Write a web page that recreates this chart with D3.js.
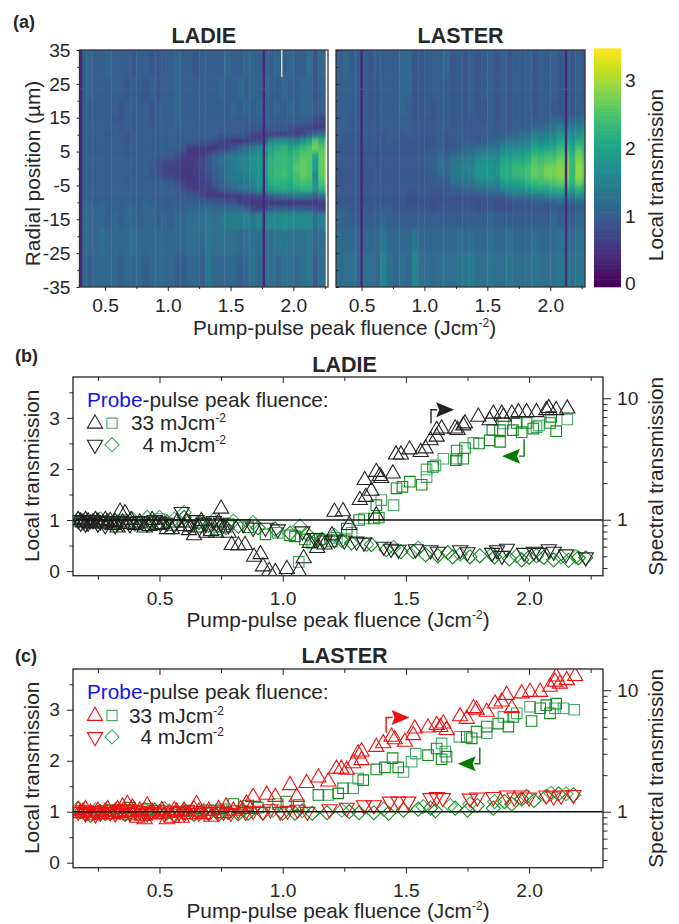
<!DOCTYPE html>
<html>
<head>
<meta charset="utf-8">
<script src="https://cdn.jsdelivr.net/npm/d3@7"></script>
<style>
  body { margin: 0; background: #fff; }
  text { font-family: "Liberation Sans", Arial, sans-serif; fill: #262626; }
</style>
</head>
<body>
<div id="chart"></div>
<script>
// Panel (a): column start fluence and row edges of the two maps
const fluenceCols = [0.30,0.35,0.40,0.45,0.50,0.55,0.60,0.65,0.70,0.75,0.80,0.85,0.90,0.95,1.00,1.05,1.10,1.15,1.20,1.25,1.30,1.35,1.40,1.45,1.50,1.55,1.60,1.65,1.70,1.75,1.80,1.85,1.90,1.95,2.00,2.05,2.10,2.15,2.20,2.25];
const radialEdges = [35,27,20,15.5,13,11,9,7,5,3,1,-1,-3,-5,-7,-9,-11,-13,-18,-25,-35];

const ladieMap = [
  [1.0,1.1,1.0,1.0,1.1,1.0,1.0,1.0,0.9,1.0,1.0,0.9,0.9,1.0,1.0,1.1,1.0,1.0,0.9,1.0,1.0,1.0,1.0,1.1,1.0,1.0,1.1,1.1,1.0,1.0,1.0,1.1,1.0,1.1,1.0,1.0,1.2,0.9,1.1,1.1],
  [1.0,1.1,1.0,1.0,1.0,1.0,1.0,0.9,1.0,1.0,0.9,1.0,0.9,1.0,1.0,1.1,1.0,1.0,1.0,1.0,1.0,1.0,1.1,1.0,1.0,1.1,1.0,1.1,1.0,1.1,1.0,1.0,1.1,1.0,1.0,1.1,1.1,0.9,1.0,1.1],
  [1.0,1.0,1.0,1.0,1.0,1.0,0.9,1.0,1.0,1.0,1.0,0.9,1.0,1.0,1.0,1.1,1.0,1.0,1.0,1.0,1.0,1.0,1.0,1.0,1.1,1.0,1.1,1.0,1.1,1.0,1.0,1.1,1.0,1.1,1.0,1.1,1.1,1.0,1.0,1.0],
  [1.0,1.0,1.0,1.0,1.0,0.9,0.9,1.0,1.0,1.0,1.0,0.9,1.0,1.0,1.0,1.1,1.0,1.0,1.0,1.0,1.0,1.0,1.0,1.0,1.0,1.0,1.0,1.0,1.0,1.0,1.0,1.0,1.0,1.0,1.0,1.0,1.0,0.8,0.7,0.7],
  [1.0,1.0,1.0,1.0,1.0,1.0,0.9,1.0,0.9,1.0,1.0,1.0,1.0,1.0,1.0,1.0,1.0,1.0,1.0,1.0,1.0,1.0,1.0,1.0,1.0,1.0,0.9,0.9,0.9,0.9,0.9,0.9,0.9,0.8,0.7,0.7,0.6,0.5,0.5,0.6],
  [1.0,1.0,1.0,1.0,0.9,1.0,1.0,0.9,1.0,1.0,1.0,1.0,1.0,1.0,1.0,1.0,1.0,1.0,1.0,1.0,1.0,1.0,0.9,1.0,0.9,0.9,0.8,0.7,0.6,0.6,0.6,0.6,0.6,0.7,0.6,0.7,0.9,1.1,1.3,1.6],
  [1.0,1.0,1.0,1.0,1.0,1.0,1.0,0.9,1.0,1.0,1.0,1.0,1.0,1.0,1.0,1.0,1.0,1.0,1.0,0.9,0.9,0.8,0.7,0.6,0.5,0.5,0.6,0.7,0.8,1.0,1.5,1.7,1.7,1.6,1.5,1.8,2.0,2.5,2.2,2.6],
  [1.0,1.0,1.0,1.0,1.0,1.0,1.0,1.0,1.0,1.0,1.0,1.0,1.0,1.0,1.0,1.0,0.9,0.6,0.5,0.5,0.5,0.5,0.6,0.7,0.9,1.1,1.2,1.4,1.5,1.7,2.0,2.1,2.2,2.0,2.1,2.3,2.4,2.7,2.5,2.9],
  [1.0,1.0,1.0,1.0,1.0,1.0,1.0,0.9,1.0,1.0,1.0,1.0,1.0,1.0,0.9,0.8,0.6,0.5,0.5,0.6,0.8,1.0,1.1,1.2,1.3,1.4,1.4,1.6,1.7,1.8,2.1,2.3,2.3,2.2,2.3,2.5,2.5,2.0,2.6,2.9],
  [1.0,1.0,1.0,1.0,1.0,1.0,1.0,1.0,1.0,1.0,1.0,0.9,0.8,0.7,0.7,0.6,0.5,0.5,0.6,0.7,0.9,1.1,1.2,1.3,1.4,1.5,1.5,1.7,1.8,1.9,2.2,2.3,2.3,2.2,2.4,2.6,2.5,1.9,2.6,3.0],
  [1.0,1.0,1.0,1.0,1.0,1.0,1.0,1.0,1.0,1.0,1.0,0.9,0.8,0.7,0.6,0.6,0.5,0.5,0.6,0.7,0.9,1.0,1.1,1.3,1.4,1.5,1.5,1.7,1.8,1.9,2.2,2.3,2.3,2.2,2.5,2.6,2.5,1.9,2.6,2.9],
  [1.0,1.0,1.0,1.0,1.0,1.0,1.0,1.0,1.0,1.0,1.0,0.9,0.9,0.7,0.7,0.6,0.5,0.5,0.6,0.7,0.8,1.0,1.1,1.3,1.4,1.4,1.5,1.6,1.8,1.9,2.2,2.3,2.4,2.2,2.4,2.6,2.5,1.6,2.6,3.0],
  [1.0,1.0,1.0,1.0,1.0,1.0,1.0,0.9,1.0,1.0,1.0,1.0,1.0,1.0,0.9,0.8,0.6,0.5,0.5,0.6,0.7,0.9,1.0,1.2,1.3,1.3,1.4,1.5,1.7,1.8,2.1,2.2,2.2,2.1,2.3,2.4,2.4,1.7,2.4,2.8],
  [1.0,1.0,1.0,1.0,1.0,1.0,1.0,1.0,1.0,1.0,1.0,1.0,1.0,1.0,1.0,0.9,0.7,0.6,0.5,0.6,0.6,0.7,0.9,1.0,1.1,1.2,1.3,1.4,1.6,1.6,1.9,2.0,2.1,2.0,2.1,2.2,2.2,1.7,2.2,2.6],
  [1.0,1.0,1.0,1.0,1.0,1.0,1.0,1.0,1.0,1.0,1.0,1.0,1.0,1.0,1.0,1.0,1.0,0.9,0.8,0.7,0.5,0.5,0.5,0.5,0.6,0.6,0.7,0.7,0.8,0.8,1.0,1.1,1.2,1.2,1.3,1.3,1.3,1.0,1.3,1.4],
  [1.1,1.1,1.0,1.1,1.0,1.0,1.0,1.1,1.0,1.0,1.1,1.0,1.0,1.0,1.0,1.0,1.0,1.0,1.0,1.0,1.0,0.9,0.9,0.8,0.8,0.6,0.6,0.5,0.5,0.5,0.5,0.5,0.5,0.5,0.5,0.5,0.5,0.5,0.5,0.5],
  [1.1,1.1,1.1,1.1,1.0,1.0,1.0,1.1,1.1,1.0,1.1,1.1,1.0,1.0,1.0,1.1,1.0,1.1,1.1,1.1,1.2,1.1,1.1,1.2,1.1,1.1,1.0,0.7,0.6,0.8,0.9,1.0,1.0,0.9,1.0,1.0,0.9,0.8,0.6,0.6],
  [1.1,1.1,1.1,1.1,1.0,1.1,1.0,1.1,1.1,1.0,1.1,1.1,1.0,1.1,1.0,1.1,1.1,1.2,1.2,1.2,1.3,1.2,1.3,1.4,1.4,1.4,1.5,1.4,1.5,1.5,1.6,1.6,1.7,1.6,1.6,1.6,1.6,1.3,1.5,1.6],
  [1.1,1.1,1.1,1.2,1.1,1.1,1.1,1.1,1.2,1.1,1.1,1.1,1.1,1.1,1.1,1.1,1.1,1.2,1.2,1.1,1.3,1.2,1.2,1.2,1.2,1.1,1.2,1.2,1.2,1.2,1.2,1.3,1.3,1.2,1.2,1.2,1.3,1.1,1.2,1.2],
  [1.1,1.0,1.1,1.1,1.1,1.1,1.0,1.1,1.1,1.1,1.0,1.1,1.1,1.1,1.1,1.0,1.0,1.1,1.1,1.0,1.3,1.1,1.1,1.1,1.1,1.0,1.1,1.2,1.1,1.2,1.2,1.1,1.2,1.2,1.1,1.2,1.3,1.0,1.2,1.2]
];

const lasterMap = [
  [1.0,1.1,1.0,1.0,1.0,0.9,1.0,1.0,1.0,1.0,1.1,1.1,0.9,0.9,1.0,1.0,1.0,1.1,0.9,1.0,0.9,1.0,0.9,1.0,1.0,0.9,1.0,0.9,1.0,1.0,1.0,0.9,1.0,1.0,1.0,0.9,1.0,0.9,1.0,0.9],
  [1.0,1.0,1.0,1.0,1.0,0.9,0.9,1.0,1.0,1.0,1.1,1.1,0.9,0.9,1.0,1.0,1.0,1.0,0.9,1.0,0.9,1.0,0.9,1.0,1.0,0.9,1.0,0.9,1.0,1.0,1.0,0.9,1.0,1.0,1.0,0.9,1.0,0.9,1.0,0.9],
  [1.0,1.0,1.0,1.0,1.0,0.9,0.9,1.0,1.0,1.0,1.1,1.0,0.9,0.9,1.0,0.9,1.0,1.0,0.9,1.0,0.9,1.0,0.9,0.9,1.0,0.9,1.0,0.9,1.0,1.0,1.0,0.9,1.0,1.0,0.9,0.9,1.0,0.9,1.0,1.0],
  [1.0,1.0,0.9,1.0,1.0,0.9,0.9,1.0,1.0,1.0,1.0,1.0,0.9,0.9,0.9,0.9,1.0,1.0,0.9,1.0,0.9,0.9,0.9,0.9,1.0,0.9,1.0,0.9,1.0,1.0,1.0,1.0,1.0,1.0,1.1,1.1,1.1,1.1,1.2,1.3],
  [1.0,1.0,0.9,1.0,1.0,0.9,0.9,1.0,1.0,1.0,1.0,1.0,0.9,0.9,0.9,0.9,1.0,1.0,0.9,1.0,0.9,0.9,0.9,1.0,1.0,0.9,1.0,0.9,1.0,1.0,1.0,1.1,1.1,1.2,1.2,1.4,1.5,1.3,1.5,1.6],
  [1.0,0.9,0.9,0.9,1.0,0.9,0.9,0.9,1.0,1.0,0.9,1.0,0.9,0.9,0.9,0.9,1.0,0.9,0.9,1.0,0.9,0.9,0.9,1.0,1.0,1.0,1.0,1.0,1.1,1.2,1.2,1.4,1.3,1.4,1.5,1.7,1.8,1.6,1.7,1.9],
  [1.0,0.9,0.9,0.9,1.0,0.9,0.9,0.9,1.0,0.9,0.9,0.9,0.9,0.9,0.9,0.9,1.0,0.9,0.9,1.0,1.0,1.0,0.9,1.0,1.1,1.1,1.2,1.3,1.3,1.4,1.4,1.7,1.6,1.7,1.8,2.0,2.1,1.8,2.1,2.1],
  [0.9,0.9,0.9,0.9,0.9,0.9,0.9,0.9,0.9,0.9,0.9,0.9,0.9,0.9,0.9,1.0,1.0,0.9,0.9,1.0,1.1,1.1,1.2,1.2,1.3,1.3,1.5,1.6,1.6,1.7,1.7,2.0,1.9,2.0,2.0,2.3,2.3,2.0,2.4,2.2],
  [0.9,0.9,0.9,0.9,0.9,0.9,0.8,0.9,0.9,0.9,0.9,0.9,0.9,0.9,1.0,1.0,1.1,1.0,1.1,1.2,1.2,1.3,1.4,1.5,1.5,1.5,1.8,1.8,1.9,1.9,2.0,2.3,2.2,2.3,2.3,2.5,2.6,2.2,2.7,2.4],
  [0.9,0.9,0.9,0.9,0.9,0.9,0.8,0.9,0.9,0.9,0.9,0.9,0.9,0.9,1.0,1.0,1.2,1.1,1.2,1.3,1.4,1.4,1.6,1.7,1.7,1.6,2.0,2.0,2.1,2.1,2.2,2.5,2.4,2.5,2.5,2.7,2.7,2.3,2.8,2.5],
  [0.9,0.9,0.9,0.9,0.9,0.9,0.9,0.9,0.9,0.9,0.9,0.9,0.9,0.9,1.0,1.0,1.2,1.1,1.3,1.4,1.5,1.5,1.7,1.8,1.8,1.7,2.1,2.1,2.3,2.3,2.4,2.6,2.5,2.7,2.7,2.8,2.8,2.3,2.9,2.6],
  [0.9,0.9,0.9,0.9,0.9,0.9,0.9,0.9,0.9,0.9,0.9,0.9,0.9,0.9,1.0,1.0,1.1,1.1,1.3,1.4,1.4,1.5,1.7,1.8,1.8,1.7,2.1,2.1,2.3,2.3,2.4,2.6,2.5,2.7,2.7,2.8,2.8,2.3,2.9,2.6],
  [0.9,0.9,0.9,0.9,0.9,0.9,0.9,0.9,0.9,0.9,0.9,0.9,0.9,0.9,0.9,1.0,1.0,1.0,1.2,1.2,1.3,1.3,1.5,1.5,1.6,1.5,1.9,1.9,2.0,2.0,2.2,2.3,2.4,2.4,2.5,2.6,2.6,2.2,2.7,2.4],
  [0.9,0.9,0.9,0.9,0.9,0.9,0.9,0.9,0.9,0.9,0.9,0.9,0.9,0.9,0.9,0.9,0.9,0.9,1.0,1.0,1.1,1.1,1.2,1.3,1.3,1.3,1.5,1.6,1.7,1.7,1.9,2.0,2.0,2.0,2.1,2.2,2.2,1.9,2.2,2.0],
  [0.9,0.9,0.9,0.9,0.9,0.9,0.9,0.9,0.9,0.9,0.9,0.8,0.8,0.9,0.9,0.8,0.8,0.9,0.9,0.9,0.9,0.9,0.9,1.0,1.0,1.0,1.0,1.1,1.2,1.2,1.3,1.4,1.4,1.5,1.6,1.6,1.6,1.4,1.6,1.6],
  [0.9,0.9,0.9,0.9,0.9,0.9,0.9,0.9,0.9,0.8,0.9,0.8,0.8,0.8,0.8,0.8,0.8,0.8,0.8,0.8,0.8,0.8,0.8,0.8,0.9,0.8,0.8,0.8,0.9,0.9,0.9,1.0,1.0,1.0,1.0,1.1,1.1,1.0,1.1,1.1],
  [1.0,1.0,0.9,0.9,1.0,0.9,1.0,1.0,1.0,0.9,0.9,0.9,0.9,0.9,0.9,0.8,0.9,0.9,0.9,0.9,0.9,0.9,0.8,0.9,0.9,0.8,0.8,0.8,0.9,0.9,0.9,0.9,0.9,0.9,1.0,0.9,1.0,0.9,1.0,1.0],
  [1.1,1.0,1.0,1.0,1.0,1.0,1.0,1.1,1.0,1.0,1.0,1.0,1.0,1.0,1.0,1.0,1.0,1.0,1.0,1.0,1.0,1.0,1.0,1.0,1.1,1.0,1.0,1.0,1.0,1.0,1.0,1.0,1.0,1.0,1.1,1.0,1.1,1.0,1.1,1.1],
  [1.2,1.1,1.1,1.1,1.1,1.1,1.1,1.3,1.1,1.1,1.1,1.1,1.3,1.1,1.1,1.1,1.1,1.1,1.1,1.2,1.1,1.2,1.1,1.1,1.2,1.1,1.1,1.2,1.1,1.1,1.1,1.2,1.1,1.1,1.1,1.2,1.3,1.1,1.2,1.2],
  [1.2,1.2,1.2,1.1,1.2,1.2,1.1,1.5,1.2,1.1,1.2,1.1,1.5,1.2,1.2,1.1,1.2,1.2,1.2,1.3,1.3,1.4,1.2,1.2,1.3,1.2,1.2,1.3,1.2,1.2,1.2,1.3,1.2,1.2,1.2,1.3,1.4,1.2,1.3,1.3]
];

// Dead detector columns and the bad row seen on both maps
const ladieDead = [0.31, 1.765];
const lasterDead = [0.50, 2.125];
const ladieDataEnd = 2.258;
const hotPixel = { fluence: 1.908, from: 35, to: 27 };
const badRowY = 23.4;

// Panel (b): local transmission, LADIE
const ladieUp = [[0.17,1.0],[0.18,0.97],[0.19,0.95],[0.2,1.0],[0.21,0.97],[0.22,0.93],[0.23,0.95],[0.24,1.0],[0.25,0.97],[0.27,0.93],[0.28,1.0],[0.29,0.95],[0.3,0.98],[0.31,0.9],[0.32,0.96],[0.33,0.85],[0.34,1.16],[0.35,0.95],[0.36,1.13],[0.37,0.92],[0.385,1.0],[0.40,0.9],[0.42,0.95],[0.44,0.85],[0.46,0.88],[0.47,1.0],[0.49,0.9],[0.51,0.92],[0.53,0.82],[0.55,0.82],[0.57,0.95],[0.60,0.88],[0.61,0.95],[0.62,0.8],[0.64,0.7],[0.66,0.85],[0.67,0.98],[0.69,0.75],[0.71,0.78],[0.73,0.75],[0.74,0.95],[0.75,1.22],[0.76,0.85],[0.78,0.75],[0.793,0.51],[0.82,0.5],[0.847,0.51],[0.884,0.28],[0.91,0.33],[0.92,0.09],[0.945,0.0],[0.97,-0.02],[1.017,0.04],[1.065,0.0],[1.085,0.25],[1.11,0.55],[1.14,0.45],[1.17,0.52],[1.2,0.7],[1.21,1.16],[1.245,1.17],[1.27,0.9],[1.313,1.39],[1.337,1.45],[1.333,1.78],[1.36,1.57],[1.38,1.94],[1.394,1.86],[1.40,1.82],[1.447,1.91],[1.38,1.09],[1.46,2.28],[1.48,2.28],[1.515,2.38],[1.56,2.33],[1.58,2.4],[1.6,2.56],[1.625,2.63],[1.625,2.76],[1.645,2.79],[1.70,2.79],[1.71,2.76],[1.733,2.85],[1.74,2.89],[1.794,3.02],[1.84,2.95],[1.855,3.08],[1.889,3.08],[1.896,3.02],[1.93,3.08],[1.957,3.11],[1.99,3.11],[2.03,3.11],[2.07,3.15],[2.08,3.19],[2.11,3.15],[2.155,3.18]];
const ladieDown = [[0.17,1.0],[0.18,0.95],[0.19,0.98],[0.2,0.93],[0.21,0.95],[0.22,1.0],[0.23,1.0],[0.25,0.93],[0.26,0.97],[0.28,0.9],[0.29,0.98],[0.32,0.9],[0.33,0.98],[0.35,0.95],[0.38,0.92],[0.41,0.97],[0.42,0.98],[0.45,0.93],[0.48,1.0],[0.5,0.97],[0.53,0.95],[0.56,0.92],[0.59,1.16],[0.62,0.9],[0.65,1.0],[0.68,0.95],[0.72,0.98],[0.75,0.95],[0.78,0.9],[0.84,0.92],[0.88,0.85],[0.93,0.85],[0.98,0.82],[1.08,0.78],[1.13,0.65],[1.17,0.6],[1.21,0.62],[1.25,0.6],[1.3,0.58],[1.33,0.56],[1.41,0.48],[1.44,0.44],[1.47,0.42],[1.54,0.43],[1.6,0.41],[1.63,0.38],[1.72,0.41],[1.75,0.37],[1.85,0.36],[1.87,0.41],[1.89,0.3],[1.91,0.44],[1.98,0.36],[2.02,0.38],[2.04,0.36],[2.08,0.43],[2.1,0.38],[2.15,0.33],[2.23,0.27]];
const ladieSquares = [[0.31,0.93],[0.45,0.95],[0.55,0.9],[0.62,0.88],[0.7,0.8],[0.78,0.92],[0.86,0.86],[0.93,0.72],[1.03,0.7],[1.05,0.68],[1.09,0.62],[1.15,0.62],[1.2,0.58],[1.26,0.83],[1.31,1.0],[1.37,1.03],[1.39,1.05],[1.38,1.29],[1.462,1.62],[1.486,1.65],[1.516,1.75],[1.564,1.69],[1.61,2.04],[1.703,2.17],[1.733,2.2],[1.706,2.36],[1.74,2.41],[1.797,2.5],[1.84,2.56],[1.882,2.53],[1.851,2.76],[1.882,2.76],[1.934,2.76],[1.97,2.72],[1.95,2.9],[1.99,2.9],[2.017,2.79],[2.085,2.9],[2.11,2.74],[2.09,3.02]];
const ladieSquaresLight = [[0.35,1.0],[0.5,1.02],[0.67,0.95],[0.73,0.82],[0.98,0.75],[1.065,0.18],[1.12,0.55],[1.22,0.65],[1.28,0.75],[1.33,1.03],[1.40,1.39],[1.45,1.29],[1.584,1.84],[1.584,1.99],[1.62,2.07],[1.652,2.2],[1.706,2.2],[1.774,2.51],[1.896,2.89],[2.03,2.82],[2.04,2.85],[2.155,2.97]];
const ladieDiamonds = [[0.19,0.97],[0.23,0.98],[0.28,0.95],[0.33,0.92],[0.4,0.92],[0.47,0.95],[0.53,0.97],[0.6,1.05],[0.66,0.95],[0.7,0.9],[0.77,0.85],[0.82,0.88],[0.9,0.85],[0.97,0.82],[1.03,0.74],[1.1,0.72],[1.16,0.62],[1.24,0.6],[1.28,0.55],[1.36,0.52],[1.42,0.42],[1.48,0.38],[1.53,0.38],[1.58,0.32],[1.63,0.3],[1.67,0.36],[1.69,0.28],[1.76,0.28],[1.8,0.3],[1.86,0.28],[1.92,0.24],[1.97,0.22],[2.0,0.27],[2.06,0.27],[2.1,0.22],[2.16,0.21],[2.2,0.26],[2.23,0.26]];
const ladieDiamondsLight = [[0.17,1.02],[0.26,1.02],[0.39,1.02],[0.45,1.05],[0.5,1.05],[0.56,1.02],[0.6,1.15],[0.72,1.0],[0.8,0.98],[0.88,0.95],[1.07,0.88],[1.21,0.7],[1.34,0.52],[1.45,0.46],[1.55,0.45],[1.72,0.33],[1.85,0.34],[1.95,0.3],[2.03,0.3],[2.13,0.28],[2.19,0.28]];

// Panel (c): local transmission, LASTER
const lasterUp = [[0.17,1.03],[0.18,0.97],[0.19,1.0],[0.2,1.05],[0.22,0.98],[0.23,0.93],[0.25,1.02],[0.26,0.95],[0.28,1.0],[0.29,1.05],[0.31,0.95],[0.32,1.0],[0.33,1.05],[0.34,0.97],[0.35,1.1],[0.36,1.0],[0.37,1.15],[0.38,0.93],[0.39,1.08],[0.4,1.0],[0.41,0.88],[0.42,1.02],[0.43,0.92],[0.44,0.85],[0.45,1.12],[0.46,0.95],[0.47,1.0],[0.5,0.95],[0.51,1.03],[0.53,0.85],[0.54,0.98],[0.55,0.88],[0.56,1.03],[0.57,1.0],[0.59,0.88],[0.6,1.02],[0.62,0.95],[0.64,1.05],[0.65,1.15],[0.66,1.0],[0.68,0.95],[0.7,1.02],[0.71,0.9],[0.74,1.05],[0.76,0.97],[0.77,1.1],[0.8,1.02],[0.83,1.05],[0.853,1.16],[0.87,1.05],[0.88,1.29],[0.935,1.33],[0.97,1.29],[1.03,1.52],[1.057,1.29],[1.097,1.56],[1.145,1.67],[1.185,1.59],[1.218,1.84],[1.238,1.84],[1.26,1.82],[1.286,1.95],[1.306,2.14],[1.32,2.18],[1.32,2.01],[1.38,2.27],[1.408,2.34],[1.442,2.47],[1.455,2.42],[1.496,2.37],[1.53,2.5],[1.536,2.63],[1.59,2.65],[1.625,2.7],[1.652,2.73],[1.665,2.6],[1.64,2.66],[1.72,2.87],[1.747,2.82],[1.774,3.03],[1.787,3.0],[1.828,2.96],[1.862,3.12],[1.889,3.16],[1.909,3.29],[1.93,3.03],[1.97,3.32],[2.004,3.35],[2.045,3.35],[2.085,3.45],[2.11,3.65],[2.105,3.55],[2.125,3.51],[2.153,3.58],[2.187,3.66]];
const lasterDown = [[0.17,1.0],[0.19,1.03],[0.2,0.97],[0.21,1.0],[0.23,1.02],[0.24,0.95],[0.26,0.98],[0.28,1.03],[0.3,1.0],[0.32,0.97],[0.34,1.02],[0.36,1.05],[0.38,0.98],[0.4,1.04],[0.42,1.02],[0.45,0.97],[0.47,1.0],[0.49,1.03],[0.52,0.97],[0.55,1.02],[0.58,1.0],[0.6,0.97],[0.63,1.02],[0.66,0.98],[0.7,1.0],[0.73,1.03],[0.76,1.0],[0.79,0.98],[0.82,1.03],[0.85,1.0],[0.88,1.02],[0.92,1.0],[0.95,1.05],[0.99,1.0],[1.02,1.02],[1.06,1.04],[1.1,1.0],[1.19,1.05],[1.26,1.08],[1.33,1.13],[1.37,1.13],[1.435,1.2],[1.47,1.2],[1.51,1.2],[1.6,1.27],[1.625,1.29],[1.65,1.27],[1.76,1.26],[1.79,1.28],[1.855,1.29],[1.91,1.32],[1.94,1.28],[1.97,1.32],[2.0,1.28],[2.07,1.32],[2.1,1.3],[2.13,1.32],[2.18,1.33]];
const lasterSquares = [[0.3,1.03],[0.38,1.08],[0.45,1.05],[0.62,1.02],[0.8,1.15],[0.86,1.12],[1.015,1.2],[1.065,1.13],[1.145,1.33],[1.225,1.36],[1.245,1.46],[1.327,1.62],[1.38,1.83],[1.415,1.87],[1.446,2.05],[1.469,1.87],[1.59,2.11],[1.625,2.24],[1.645,2.03],[1.665,2.08],[1.747,2.47],[1.767,2.44],[1.787,2.57],[1.828,2.67],[1.875,2.73],[1.916,2.67],[1.936,2.86],[2.01,2.78],[2.045,3.03],[2.085,2.93],[2.07,3.09],[2.11,3.12]];
const lasterSquaresLight = [[0.25,1.0],[0.42,1.0],[0.5,1.02],[0.58,1.0],[0.7,1.03],[0.75,1.05],[0.9,1.08],[0.98,1.15],[1.185,1.33],[1.286,1.46],[1.306,1.65],[1.49,1.78],[1.523,1.98],[1.54,2.14],[1.645,2.34],[1.66,2.18],[1.717,2.47],[1.828,2.54],[1.896,2.86],[1.95,2.93],[2.004,3.06],[2.105,3.03],[2.14,3.03],[2.183,3.0]];
const lasterDiamonds = [[0.18,1.0],[0.2,0.96],[0.22,0.93],[0.24,0.98],[0.26,1.0],[0.28,0.96],[0.3,0.97],[0.33,1.0],[0.36,0.95],[0.38,1.0],[0.4,1.0],[0.43,0.95],[0.46,0.97],[0.48,1.03],[0.5,1.0],[0.53,0.97],[0.56,0.93],[0.6,0.98],[0.64,0.95],[0.67,1.0],[0.7,0.96],[0.74,0.95],[0.78,0.98],[0.82,0.96],[0.86,0.97],[0.92,0.98],[1.0,0.97],[1.05,0.97],[1.12,0.97],[1.18,0.98],[1.27,1.0],[1.31,0.98],[1.37,0.98],[1.43,0.97],[1.49,1.03],[1.55,1.05],[1.6,1.07],[1.62,1.02],[1.7,1.07],[1.75,1.03],[1.79,1.12],[1.855,1.07],[1.9,1.2],[1.93,1.15],[1.97,1.25],[2.02,1.22],[2.07,1.3],[2.12,1.35],[2.18,1.33]];
const lasterDiamondsLight = [[0.17,1.07],[0.24,1.03],[0.34,1.03],[0.44,1.05],[0.52,1.06],[0.6,1.03],[0.68,1.02],[0.74,1.0],[0.84,1.03],[0.96,1.03],[1.08,1.02],[1.24,1.03],[1.41,1.05],[1.57,1.1],[1.68,1.12],[1.76,1.15],[1.86,1.2],[1.99,1.3],[2.09,1.36],[2.15,1.35]];

// Bent arrows, given in the units of each panel
const ladieArrowUp = [[1.602,2.89],[1.602,3.16],[1.696,3.16]];
const ladieArrowDown = [[1.98,2.58],[1.98,2.25],[1.89,2.25]];
const lasterArrowUp = [[1.42,2.55],[1.42,2.85],[1.515,2.85]];
const lasterArrowDown = [[1.80,2.26],[1.80,1.94],[1.71,1.94]];

const black = "#222", red = "#f01010";
const greenDark = "#128a1c", greenLight = "#45a86a", arrowGreen = "#057a05";

const svg = d3.select("#chart").append("svg").attr("width", 679).attr("height", 924);
const color = d3.scaleSequential(d3.interpolateViridis).domain([-0.05, 3.45]);
const fs = 20.8, tickFs = 19.2;

const blur = svg.append("defs").append("filter").attr("id", "soft")
  .attr("x", "-2%").attr("y", "-5%").attr("width", "104%").attr("height", "110%");
blur.append("feGaussianBlur").attr("stdDeviation", "0.5 2.2");

function label(x, y, str, opts) {
  opts = opts || {};
  return svg.append("text").attr("x", x).attr("y", y)
    .attr("font-size", opts.size || fs)
    .attr("font-weight", opts.bold ? "bold" : null)
    .attr("text-anchor", opts.anchor || "start")
    .attr("transform", opts.rot ? "rotate(-90," + x + "," + y + ")" : null)
    .text(str);
}

function fluenceTitle(x, y) {
  const t = label(x, y, "Pump-pulse peak fluence (Jcm", { anchor: "middle" });
  t.append("tspan").attr("font-size", 12).attr("dy", -8).text("-2");
  t.append("tspan").attr("dy", 8).text(")");
}

function styleAxis(g) {
  g.selectAll("text").attr("font-size", tickFs);
  g.selectAll("line").attr("stroke", black);
  g.select(".domain").remove();
}

// one heat map of panel (a)
function drawMap(left, right, values, dead, end, showLabels, title) {
  const top = 50, bottom = 287;
  const x = d3.scaleLinear().domain([0.297, 2.276]).range([left, right]);
  const y = d3.scaleLinear().domain([35, -35]).range([top, bottom]);

  const clipId = "clip" + Math.round(left);
  svg.select("defs").append("clipPath").attr("id", clipId).append("rect")
    .attr("x", x(0.297)).attr("y", top).attr("width", x(end) - x(0.297)).attr("height", bottom - top);

  const holder = svg.append("g").attr("clip-path", "url(#" + clipId + ")");
  const cells = holder.append("g").attr("filter", "url(#soft)");
  values.forEach((row, r) => {
    const pad = (r == 0 || r == values.length - 1) ? 8 : 0;
    cells.selectAll(null).data(row).enter().append("rect")
      .attr("x", (d, c) => x(fluenceCols[c]) - (c == 0 ? 8 : 0))
      .attr("y", y(radialEdges[r]) - (r == 0 ? 8 : 0))
      .attr("width", (d, c) => x(c == 39 ? 2.35 : fluenceCols[c + 1]) - x(fluenceCols[c]) + (c == 0 ? 8 : 0) + 0.4)
      .attr("height", y(radialEdges[r + 1]) - y(radialEdges[r]) + pad + 0.4)
      .attr("fill", d => color(d));
  });
  holder.selectAll(".dead").data(dead).enter().append("line")
    .attr("x1", d => x(d)).attr("x2", d => x(d)).attr("y1", top).attr("y2", bottom)
    .attr("stroke", color(0.35)).attr("stroke-width", 2.4);
  holder.append("line").attr("x1", left).attr("x2", right).attr("y1", y(badRowY)).attr("y2", y(badRowY))
    .attr("stroke", color(1.25)).attr("stroke-width", 0.8);

  // frame
  svg.append("rect").attr("x", left).attr("y", top).attr("width", right - left).attr("height", bottom - top)
    .attr("fill", "none").attr("stroke", "#333").attr("stroke-width", 1.3);

  // ticks
  const ax = svg.append("g").attr("transform", "translate(0," + bottom + ")")
    .call(d3.axisBottom(x).tickValues([0.5, 1.0, 1.5, 2.0]).tickFormat(d3.format(".1f")).tickSize(4).tickPadding(7));
  styleAxis(ax);
  styleAxis(svg.append("g").attr("transform", "translate(0," + bottom + ")")
    .call(d3.axisBottom(x).tickValues([0.75, 1.25, 1.75, 2.25]).tickFormat("").tickSize(2)));

  const maj = [35, 25, 15, 5, -5, -15, -25, -35], minor = [30, 20, 10, 0, -10, -20, -30];
  const yAxis = showLabels ? d3.axisLeft(y) : d3.axisRight(y);
  const ay = svg.append("g").attr("transform", "translate(" + left + ",0)")
    .call(yAxis.tickValues(maj).tickFormat(showLabels ? String : "").tickSize(3).tickPadding(6));
  styleAxis(ay);
  const yMinor = showLabels ? d3.axisLeft(y) : d3.axisRight(y);
  styleAxis(svg.append("g").attr("transform", "translate(" + left + ",0)")
    .call(yMinor.tickValues(minor).tickFormat("").tickSize(2)));

  label((left + right) / 2, 42.7, title, { anchor: "middle", bold: true, size: 21.5 });
}

drawMap(79.5, 328, ladieMap, ladieDead, ladieDataEnd, true, "LADIE");
drawMap(336, 585, lasterMap, lasterDead, 2.276, false, "LASTER");

// single hot pixel column on the LADIE map
(function () {
  const x = d3.scaleLinear().domain([0.297, 2.276]).range([79.5, 328]);
  const y = d3.scaleLinear().domain([35, -35]).range([50, 287]);
  svg.append("line").attr("x1", x(hotPixel.fluence)).attr("x2", x(hotPixel.fluence))
    .attr("y1", y(hotPixel.from)).attr("y2", y(hotPixel.to))
    .attr("stroke", "#f6f6d0").attr("stroke-width", 1.2);
})();

// colour bar
(function () {
  const scale = d3.scaleLinear().domain([-0.05, 3.45]).range([287, 50]);
  const levels = d3.range(-0.05, 3.45, 0.055);
  svg.append("g").selectAll("rect").data(levels).enter().append("rect")
    .attr("x", 594).attr("width", 27)
    .attr("y", d => scale(d + 0.055) - 0.3)
    .attr("height", d => scale(d) - scale(d + 0.055) + 0.6)
    .attr("fill", d => color(d));
  const g = svg.append("g").attr("transform", "translate(621,0)")
    .call(d3.axisRight(scale).tickValues([0, 1, 2, 3]).tickFormat(String).tickSize(0).tickPadding(4));
  styleAxis(g);
})();

label(39.5, 173.5, "Radial position (µm)", { rot: true, anchor: "middle" });
label(663, 175, "Local transmission", { rot: true, anchor: "middle" });
fluenceTitle(344.5, 334.5);
label(13, 28, "(a)", { bold: true, size: 18 });

// panels (b) and (c)
function drawScatter(o) {
  const left = 73, right = 603;
  const x = d3.scaleLinear().domain([0.149, 2.30]).range([left, right]);
  const y = d3.scaleLinear().domain([o.yMin, o.yMax]).range([o.bottom, o.top]);
  const yLog = d3.scaleLog().domain([o.logMin, o.logMax]).range([o.bottom, o.top]);

  const clipId = "plot" + Math.round(o.top);
  svg.select("defs").append("clipPath").attr("id", clipId).append("rect")
    .attr("x", left).attr("y", o.top).attr("width", right - left).attr("height", o.bottom - o.top);
  const plot = svg.append("g").attr("clip-path", "url(#" + clipId + ")");

  const put = (rows, sym, size, stroke, rot) => {
    const path = d3.symbol().type(sym).size(size)();
    plot.append("g").selectAll("path").data(rows).enter().append("path")
      .attr("d", path)
      .attr("transform", d => "translate(" + x(d[0]) + "," + y(d[1]) + ")" + (rot ? " rotate(" + rot + ")" : ""))
      .attr("fill", "none").attr("stroke", stroke).attr("stroke-width", 1.1);
  };

  put(o.diamondsLight, d3.symbolSquare, 100, greenLight, 45);
  put(o.diamonds, d3.symbolSquare, 100, greenDark, 45);
  put(o.squaresLight, d3.symbolSquare, 112, greenLight);
  put(o.squares, d3.symbolSquare, 112, greenDark);
  put(o.up, d3.symbolTriangle, 100, o.main);
  put(o.down, d3.symbolTriangle, 100, o.main, 180);

  svg.append("line").attr("x1", left).attr("x2", right).attr("y1", y(1)).attr("y2", y(1))
    .attr("stroke", "#111").attr("stroke-width", 1.6);
  svg.append("rect").attr("x", left).attr("y", o.top).attr("width", right - left).attr("height", o.bottom - o.top)
    .attr("fill", "none").attr("stroke", "#333").attr("stroke-width", 1.4);

  // bottom, top, left, right axes
  const xMaj = [0.5, 1.0, 1.5, 2.0], xMin = [0.25, 0.75, 1.25, 1.75, 2.25];
  const gb = svg.append("g").attr("transform", "translate(0," + o.bottom + ")")
    .call(d3.axisBottom(x).tickValues(xMaj).tickFormat(d3.format(".1f")).tickSize(6).tickPadding(9.5));
  styleAxis(gb);
  styleAxis(svg.append("g").attr("transform", "translate(0," + o.bottom + ")")
    .call(d3.axisBottom(x).tickValues(xMin).tickFormat("").tickSize(4)));
  styleAxis(svg.append("g").attr("transform", "translate(0," + o.top + ")")
    .call(d3.axisBottom(x).tickValues(xMaj).tickFormat("").tickSize(6)));
  styleAxis(svg.append("g").attr("transform", "translate(0," + o.top + ")")
    .call(d3.axisBottom(x).tickValues(xMin).tickFormat("").tickSize(4)));

  const gl = svg.append("g").attr("transform", "translate(" + left + ",0)")
    .call(d3.axisLeft(y).tickValues([0, 1, 2, 3]).tickFormat(String).tickSize(6).tickPadding(7));
  styleAxis(gl);
  styleAxis(svg.append("g").attr("transform", "translate(" + left + ",0)")
    .call(d3.axisLeft(y).tickValues([0.5, 1.5, 2.5, 3.5]).tickFormat("").tickSize(3.5)));

  const gr = svg.append("g").attr("transform", "translate(" + right + ",0)")
    .call(d3.axisRight(yLog).tickValues([1, 10]).tickFormat(String).tickSize(8).tickPadding(6));
  styleAxis(gr);
  styleAxis(svg.append("g").attr("transform", "translate(" + right + ",0)")
    .call(d3.axisRight(yLog).tickValues([0.4, 0.5, 0.6, 0.7, 0.8, 0.9, 2, 3, 4, 5, 6, 7, 8, 9]).tickFormat("").tickSize(4.5)));

  // bent arrows
  const arrow = (pts, col) => {
    const p = pts.map(d => [x(d[0]), y(d[1])]);
    const dir = Math.sign(p[2][0] - p[1][0]);
    const baseX = p[2][0] - dir * 17, yy = p[2][1];
    svg.append("path").attr("d", d3.line()([p[0], p[1], [baseX, yy]]))
      .attr("fill", "none").attr("stroke", col).attr("stroke-width", 1.4);
    svg.append("path").attr("fill", col)
      .attr("d", d3.line()([p[2], [baseX - dir * 1, yy - 7.5], [baseX + dir * 2, yy], [baseX - dir * 1, yy + 7.5]]) + "Z");
  };
  arrow(o.arrowUp, o.main);
  arrow(o.arrowDown, arrowGreen);

  // legend
  const leg = (sym, size, col, lx, ly, rot) => svg.append("path")
    .attr("d", d3.symbol().type(sym).size(size)())
    .attr("transform", "translate(" + lx + "," + ly + ")" + (rot ? " rotate(" + rot + ")" : ""))
    .attr("fill", "none").attr("stroke", col).attr("stroke-width", 1.1);
  const t0 = label(87, o.legendY, "Probe", {});
  t0.style("fill", "#1414e6");
  t0.append("tspan").style("fill", "#262626").text("-pulse peak fluence:");
  leg(d3.symbolTriangle, 100, o.main, 95, o.legendY + 17);
  leg(d3.symbolSquare, 105, greenLight, 112, o.legendY + 16.5);
  leg(d3.symbolTriangle, 100, o.main, 95, o.legendY + 38, 180);
  leg(d3.symbolSquare, 100, greenLight, 112, o.legendY + 38, 45);
  const t1 = label(o.legendTextX, o.legendY + 23.5, "33 mJcm");
  t1.append("tspan").attr("font-size", 12).attr("dy", -8).text("-2");
  const t2 = label(o.legendTextX + 11.5, o.legendY + 45, "4 mJcm");
  t2.append("tspan").attr("font-size", 12).attr("dy", -8).text("-2");

  label(344.5, o.titleY, o.title, { anchor: "middle", bold: true, size: 21.5 });
  label(39.5, (o.top + o.bottom) / 2 - 0.5, "Local transmission", { rot: true, anchor: "middle" });
  label(663, (o.top + o.bottom) / 2, "Spectral transmission", { rot: true, anchor: "middle" });
  fluenceTitle(338, o.bottom + o.titleGap);
  label(15, o.panelY, o.panel, { bold: true, size: 18 });
}

drawScatter({
  top: 377, bottom: 575.7, yMin: -0.09, yMax: 3.8, logMin: 0.346, logMax: 14.97,
  up: ladieUp, down: ladieDown, squares: ladieSquares, squaresLight: ladieSquaresLight,
  diamonds: ladieDiamonds, diamondsLight: ladieDiamondsLight,
  arrowUp: ladieArrowUp, arrowDown: ladieArrowDown, main: black,
  legendY: 406.7, legendTextX: 131, title: "LADIE", titleY: 372.3, panel: "(b)", panelY: 362, titleGap: 51
});

drawScatter({
  top: 669, bottom: 867.7, yMin: -0.098, yMax: 3.8, logMin: 0.346, logMax: 14.97,
  up: lasterUp, down: lasterDown, squares: lasterSquares, squaresLight: lasterSquaresLight,
  diamonds: lasterDiamonds, diamondsLight: lasterDiamondsLight,
  arrowUp: lasterArrowUp, arrowDown: lasterArrowDown, main: red,
  legendY: 699, legendTextX: 129, title: "LASTER", titleY: 663.3, panel: "(c)", panelY: 661.7, titleGap: 50
});
</script>
</body>
</html>
